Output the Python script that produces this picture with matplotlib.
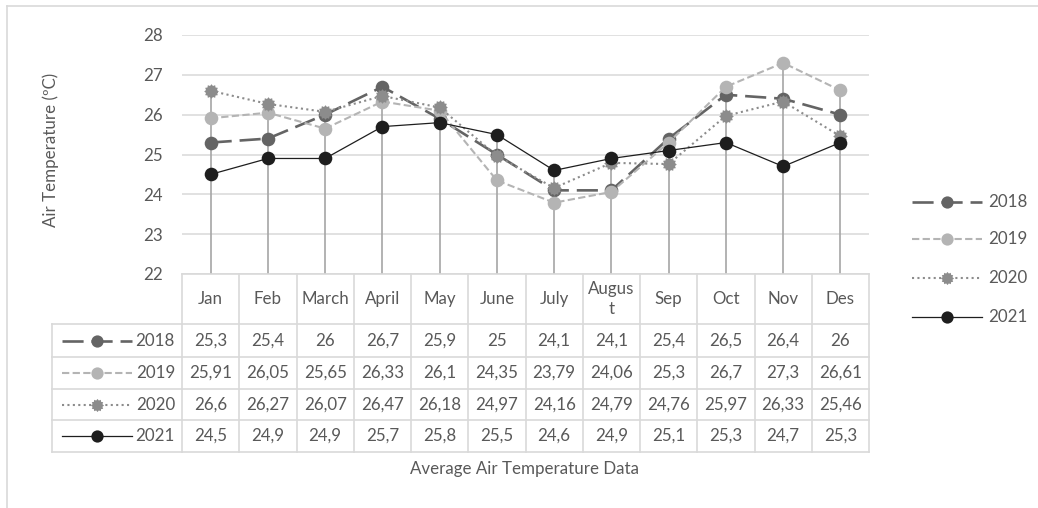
import matplotlib
matplotlib.use("Agg")
import matplotlib.pyplot as plt
import numpy as np
from matplotlib.lines import Line2D
from matplotlib.transforms import blended_transform_factory

plt.rcParams['font.family'] = ['Lato', 'DejaVu Sans']

months = ["Jan", "Feb", "March", "April", "May", "June", "July", "Augus\nt",
          "Sep", "Oct", "Nov", "Des"]
years = ["2018", "2019", "2020", "2021"]
t2018 = [25.3, 25.4, 26, 26.7, 25.9, 25, 24.1, 24.1, 25.4, 26.5, 26.4, 26]
t2019 = [25.91, 26.05, 25.65, 26.33, 26.1, 24.35, 23.79, 24.06, 25.3, 26.7, 27.3, 26.61]
t2020 = [26.6, 26.27, 26.07, 26.47, 26.18, 24.97, 24.16, 24.79, 24.76, 25.97, 26.33, 25.46]
t2021 = [24.5, 24.9, 24.9, 25.7, 25.8, 25.5, 24.6, 24.9, 25.1, 25.3, 24.7, 25.3]
yticks = [22, 23, 24, 25, 26, 27, 28]
series = [t2018, t2019, t2020, t2021]

W, H = 1038, 508
def fx(p):
    return p / W
def fy(p):
    return 1 - p / H

txt = "#595959"
grid = "#d9d9d9"
fs = 12.2

# gear-like marker for 2020 (dotted marker border in the original)
ang = np.linspace(0, 2 * np.pi, 25)[:-1]
rad = np.where(np.arange(24) % 2 == 0, 1.0, 0.78)
gear = list(zip(rad * np.cos(ang), rad * np.sin(ang)))

styles = [
    dict(color="#646464", lw=1.9, ls=(0, (8, 3)), marker="o", ms=9.8),
    dict(color="#b4b4b4", lw=1.5, ls=(0, (3.5, 1.6)), marker="o", ms=9.8),
    dict(color="#8c8c8c", lw=1.5, ls=(0, (1, 1.6)), marker=gear, ms=10.5),
    dict(color="#1e1e1e", lw=0.9, ls="-", marker="o", ms=9.8),
]

fig = plt.figure(figsize=(W / 100, H / 100), dpi=100)
ax = fig.add_axes([fx(182), fy(274), fx(869) - fx(182), fy(35) - fy(274)])

x = np.arange(len(months))
tops = np.max(np.array(series), axis=0)
ax.vlines(x, 22, tops, color="#a6a6a6", lw=1.2, zorder=1)

for vals, st in zip(series, styles):
    ax.plot(x, vals, color=st["color"], lw=st["lw"], ls=st["ls"],
            marker=st["marker"], ms=st["ms"], mfc=st["color"], mec=st["color"],
            mew=0, zorder=3)

ax.set_xlim(-0.5, len(months) - 0.5)
ax.set_ylim(22, 28)
ax.set_yticks(yticks)
ax.set_xticks([])
ax.yaxis.grid(True, color=grid, lw=1.1, zorder=0)
ax.set_axisbelow(True)
ax.tick_params(axis="y", length=0, pad=14, labelsize=fs, labelcolor=txt)
for s in ax.spines.values():
    s.set_visible(False)

# data table under the plot
tr = blended_transform_factory(ax.transData, fig.transFigure)
row_edges = [274, 324, 357, 389, 420, 452]
for i, yp in enumerate(row_edges):
    fig.add_artist(Line2D([-0.5, len(months) - 0.5], [fy(yp)] * 2, transform=tr,
                          color=grid, lw=1.2))
    if i > 0:
        fig.add_artist(Line2D([fx(52), fx(182)], [fy(yp)] * 2, color=grid, lw=1.2))
for b in np.arange(len(months) + 1) - 0.5:
    fig.add_artist(Line2D([b, b], [fy(274), fy(452)], transform=tr, color=grid, lw=1.2))
fig.add_artist(Line2D([fx(52), fx(52)], [fy(324), fy(452)], color=grid, lw=1.2))

for i, m in enumerate(months):
    fig.text(i, fy(299), m, transform=tr, ha="center", va="center",
             fontsize=fs, color=txt, linespacing=1.25)


def fmt(v):
    return "{:g}".format(v).replace(".", ",")


def key(x0, x1, y, st):
    fig.add_artist(Line2D([x0, x1], [y, y], color=st["color"], lw=st["lw"], ls=st["ls"]))
    fig.add_artist(Line2D([(x0 + x1) / 2], [y], color=st["color"], marker=st["marker"],
                          ms=st["ms"] * 0.9, mew=0, ls="none"))


for r, (yr, vals, st) in enumerate(zip(years, series, styles)):
    yc = fy((row_edges[r + 1] + row_edges[r + 2]) / 2)
    for i, v in enumerate(vals):
        fig.text(i, yc, fmt(v), transform=tr, ha="center", va="center",
                 fontsize=fs, color=txt)
    key(fx(62), fx(132), yc, st)
    fig.text(fx(175), yc, yr, ha="right", va="center", fontsize=fs, color=txt)

# legend on the right
for yp, yr, st in zip([202, 239, 278, 317], years, styles):
    key(fx(912), fx(982), fy(yp), st)
    fig.text(fx(988), fy(yp), yr, ha="left", va="center", fontsize=fs, color=txt)

fig.text(fx(525), fy(469), "Average Air Temperature Data", ha="center", va="center",
         fontsize=fs, color=txt)
fig.text(fx(51), fy(150), "Air Temperature (ºC)", rotation=90, ha="center",
         va="center", fontsize=fs, color=txt)

# chart area border
fig.add_artist(Line2D([fx(7), 1.01], [fy(6), fy(6)], color=grid, lw=1.2))
fig.add_artist(Line2D([fx(7), fx(7)], [fy(6), -0.01], color=grid, lw=1.2))

fig.savefig("out.png", dpi=100)
